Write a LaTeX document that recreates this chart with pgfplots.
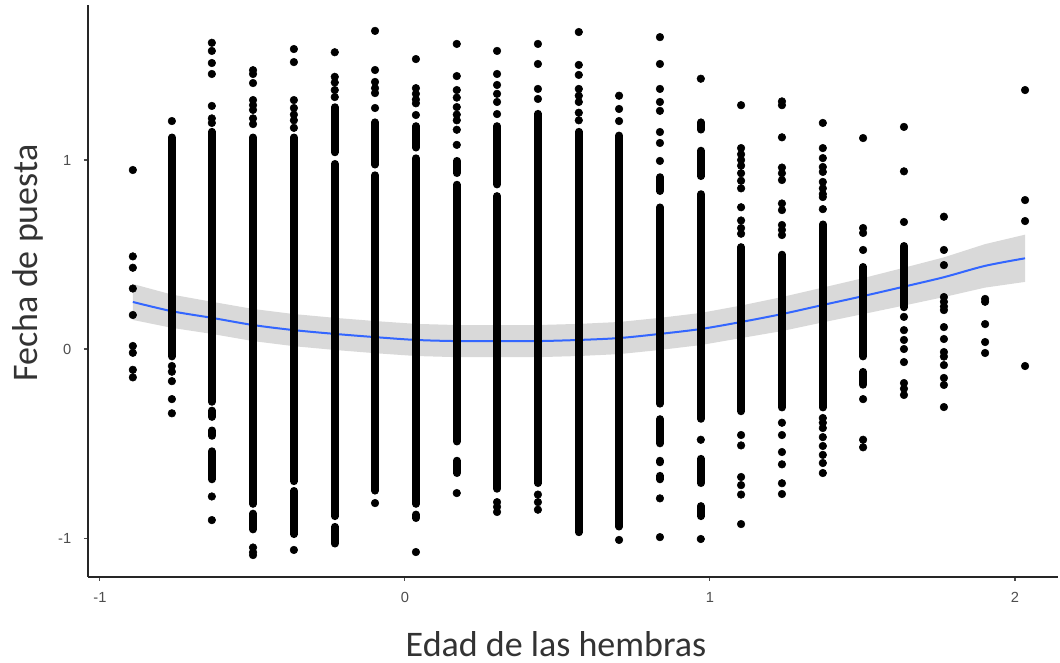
\documentclass[border=0pt]{standalone}
\usepackage{fontspec}
\setmainfont{Carlito}
\newfontfamily\tickfont{Liberation Sans}
\usepackage{pgfplots}
\pgfplotsset{compat=1.18}
\definecolor{smoothblue}{HTML}{3366FF}
\definecolor{bandgray}{HTML}{D9D9D9}
\definecolor{ticklab}{HTML}{4D4D4D}
\begin{document}
\begin{tikzpicture}
\useasboundingbox (-66pt,-64.5pt) rectangle (729pt,432.75pt);
\begin{axis}[
  at={(0,0)}, anchor=south west,
  scale only axis, width=727.5pt, height=429pt,
  xmin=-1.039, xmax=2.141, ymin=-1.206, ymax=1.820,
  axis lines*=left,
  axis line style={black!85, line width=0.9pt},
  tick align=outside, major tick length=3pt,
  tick style={black!70, line width=0.8pt},
  xtick={-1,0,1,2}, xticklabels={-1,0,1,2},
  ytick={-1,0,1}, yticklabels={-1,0,1},
  ticklabel style={font=\tickfont\fontsize{11}{13}\selectfont, text=ticklab},
  xticklabel style={yshift=-5pt},
  yticklabel style={xshift=-6pt},
  unbounded coords=jump,
]
% confidence band
\addplot[draw=none, fill=bandgray] coordinates {
(-0.892,0.344) (-0.764,0.288) (-0.633,0.25) (-0.498,0.212) (-0.364,0.185) (-0.230,0.165) (-0.098,0.148) (0.036,0.133) (0.170,0.127) (0.302,0.127) (0.436,0.127) (0.570,0.133) (0.702,0.143) (0.836,0.165) (0.970,0.191) (1.102,0.23) (1.236,0.275) (1.370,0.325) (1.502,0.375) (1.636,0.43) (1.767,0.485) (1.902,0.555) (2.033,0.605)
(2.033,0.355) (1.902,0.325) (1.767,0.275) (1.636,0.23) (1.502,0.185) (1.370,0.141) (1.236,0.095) (1.102,0.058) (0.970,0.021) (0.836,-0.005) (0.702,-0.027) (0.570,-0.037) (0.436,-0.043) (0.302,-0.043) (0.170,-0.043) (0.036,-0.037) (-0.098,-0.022) (-0.230,-0.005) (-0.364,0.015) (-0.498,0.042) (-0.633,0.08) (-0.764,0.112) (-0.892,0.154)
} -- cycle;
% smooth line
\addplot[smoothblue, line width=1.5pt, smooth] coordinates {
(-0.892,0.249) (-0.764,0.20) (-0.633,0.165) (-0.498,0.127) (-0.364,0.10) (-0.230,0.08) (-0.098,0.063) (0.036,0.048) (0.170,0.042) (0.302,0.042) (0.436,0.042) (0.570,0.048) (0.702,0.058) (0.836,0.08) (0.970,0.106) (1.102,0.143) (1.236,0.185) (1.370,0.233) (1.502,0.28) (1.636,0.33) (1.767,0.38) (1.902,0.44) (2.033,0.48)
};
% dense parts of the columns
\addplot[black, line width=5.7pt, line cap=round] coordinates {
(-0.764,-0.04) (-0.764,1.12) (-0.764,nan)
(-0.633,-0.28) (-0.633,1.15) (-0.633,nan)
(-0.633,-0.36) (-0.633,-0.325) (-0.633,nan)
(-0.633,-0.46) (-0.633,-0.43) (-0.633,nan)
(-0.633,-0.69) (-0.633,-0.54) (-0.633,nan)
(-0.498,-0.82) (-0.498,1.12) (-0.498,nan)
(-0.498,-0.955) (-0.498,-0.87) (-0.498,nan)
(-0.364,-0.70) (-0.364,1.12) (-0.364,nan)
(-0.364,-0.98) (-0.364,-0.75) (-0.364,nan)
(-0.230,-0.885) (-0.230,0.98) (-0.230,nan)
(-0.230,1.04) (-0.230,1.28) (-0.230,nan)
(-0.230,-1.03) (-0.230,-0.94) (-0.230,nan)
(-0.098,-0.75) (-0.098,0.92) (-0.098,nan)
(-0.098,0.975) (-0.098,1.20) (-0.098,nan)
(0.036,-0.82) (0.036,1.01) (0.036,nan)
(0.036,1.065) (0.036,1.18) (0.036,nan)
(0.036,-0.895) (0.036,-0.875) (0.036,nan)
(0.170,-0.49) (0.170,0.87) (0.170,nan)
(0.170,0.93) (0.170,0.996) (0.170,nan)
(0.170,-0.657) (0.170,-0.59) (0.170,nan)
(0.302,-0.74) (0.302,0.81) (0.302,nan)
(0.302,0.87) (0.302,1.18) (0.302,nan)
(0.436,-0.71) (0.436,1.245) (0.436,nan)
(0.570,-0.97) (0.570,1.15) (0.570,nan)
(0.702,-0.94) (0.702,1.13) (0.702,nan)
(0.836,-0.29) (0.836,0.75) (0.836,nan)
(0.836,0.835) (0.836,0.91) (0.836,nan)
(0.836,-0.50) (0.836,-0.37) (0.836,nan)
(0.836,-0.60) (0.836,-0.59) (0.836,nan)
(0.836,-0.69) (0.836,-0.67) (0.836,nan)
(0.970,-0.37) (0.970,0.82) (0.970,nan)
(0.970,0.914) (0.970,1.05) (0.970,nan)
(0.970,1.16) (0.970,1.20) (0.970,nan)
(0.970,-0.71) (0.970,-0.58) (0.970,nan)
(0.970,-0.885) (0.970,-0.83) (0.970,nan)
(1.102,-0.33) (1.102,0.54) (1.102,nan)
(1.236,-0.31) (1.236,0.50) (1.236,nan)
(1.370,-0.31) (1.370,0.66) (1.370,nan)
(1.502,-0.04) (1.502,0.435) (1.502,nan)
(1.502,-0.19) (1.502,-0.12) (1.502,nan)
(1.636,0.22) (1.636,0.546)
};
% individual points
\addplot[only marks, mark=*, mark size=2.85pt, black] coordinates {
(-0.892,0.947) (-0.892,0.49) (-0.892,0.43) (-0.892,0.32) (-0.892,0.18) (-0.892,0.016) (-0.892,-0.02) (-0.892,-0.11) (-0.892,-0.15)
(-0.764,1.206) (-0.764,-0.09) (-0.764,-0.12) (-0.764,-0.17) (-0.764,-0.265) (-0.764,-0.34)
(-0.633,1.62) (-0.633,1.577) (-0.633,1.513) (-0.633,1.455) (-0.633,1.286) (-0.633,1.22) (-0.633,1.196) (-0.633,-0.78) (-0.633,-0.905)
(-0.498,1.475) (-0.498,1.455) (-0.498,1.407) (-0.498,1.317) (-0.498,1.29) (-0.498,1.265) (-0.498,1.22) (-0.498,1.19) (-0.498,-1.05) (-0.498,-1.075) (-0.498,-1.09)
(-0.364,1.587) (-0.364,1.518) (-0.364,1.317) (-0.364,1.275) (-0.364,1.24) (-0.364,1.21) (-0.364,1.17) (-0.364,-1.063)
(-0.230,1.57) (-0.230,1.44) (-0.230,1.41) (-0.230,1.37) (-0.230,1.333)
(-0.098,1.683) (-0.098,1.476) (-0.098,1.413) (-0.098,1.38) (-0.098,1.354) (-0.098,1.275) (-0.098,-0.815)
(0.036,1.534) (0.036,1.38) (0.036,1.35) (0.036,1.32) (0.036,1.30) (0.036,1.238) (0.036,-1.074)
(0.170,1.614) (0.170,1.444) (0.170,1.37) (0.170,1.33) (0.170,1.28) (0.170,1.24) (0.170,1.21) (0.170,1.16) (0.170,1.08) (0.170,-0.762)
(0.302,1.577) (0.302,1.455) (0.302,1.397) (0.302,1.35) (0.302,1.307) (0.302,1.243) (0.302,-0.81) (0.302,-0.835) (0.302,-0.862)
(0.436,1.614) (0.436,1.508) (0.436,1.376) (0.436,1.323) (0.436,-0.77) (0.436,-0.81) (0.436,-0.85)
(0.570,1.677) (0.570,1.503) (0.570,1.45) (0.570,1.376) (0.570,1.34) (0.570,1.307) (0.570,1.25) (0.570,1.21)
(0.702,1.34) (0.702,1.27) (0.702,1.206) (0.702,-1.01)
(0.836,1.65) (0.836,1.508) (0.836,1.376) (0.836,1.307) (0.836,1.26) (0.836,1.148) (0.836,1.09) (0.836,0.995) (0.836,-0.79) (0.836,-0.995)
(0.970,1.43) (0.970,-0.48) (0.970,-1.005)
(1.102,1.29) (1.102,1.063) (1.102,1.03) (1.102,1.0) (1.102,0.97) (1.102,0.93) (1.102,0.89) (1.102,0.85) (1.102,0.75) (1.102,0.68) (1.102,0.64) (1.102,0.61) (1.102,-0.455) (1.102,-0.51) (1.102,-0.677) (1.102,-0.72) (1.102,-0.77) (1.102,-0.926)
(1.236,1.31) (1.236,1.29) (1.236,1.12) (1.236,0.96) (1.236,0.93) (1.236,0.894) (1.236,0.77) (1.236,0.735) (1.236,0.656) (1.236,0.63) (1.236,0.603) (1.236,-0.39) (1.236,-0.455) (1.236,-0.545) (1.236,-0.61) (1.236,-0.71) (1.236,-0.767)
(1.370,1.196) (1.370,1.063) (1.370,1.01) (1.370,0.963) (1.370,0.937) (1.370,0.884) (1.370,0.85) (1.370,0.82) (1.370,0.804) (1.370,0.74) (1.370,-0.365) (1.370,-0.39) (1.370,-0.418) (1.370,-0.466) (1.370,-0.513) (1.370,-0.56) (1.370,-0.603) (1.370,-0.656)
(1.502,1.116) (1.502,0.64) (1.502,0.614) (1.502,0.524) (1.502,-0.265) (1.502,-0.48) (1.502,-0.52)
(1.636,1.175) (1.636,0.94) (1.636,0.672) (1.636,0.17) (1.636,0.10) (1.636,0.048) (1.636,0.0) (1.636,-0.069) (1.636,-0.18) (1.636,-0.21) (1.636,-0.243)
(1.767,0.70) (1.767,0.524) (1.767,0.444) (1.767,0.275) (1.767,0.25) (1.767,0.225) (1.767,0.206) (1.767,0.116) (1.767,0.053) (1.767,-0.016) (1.767,-0.04) (1.767,-0.085) (1.767,-0.153) (1.767,-0.19) (1.767,-0.307)
(1.902,0.265) (1.902,0.25) (1.902,0.132) (1.902,0.037) (1.902,-0.021)
(2.033,1.37) (2.033,0.788) (2.033,0.677) (2.033,-0.09)
};
\end{axis}
\node[text=black!80, inner sep=0pt, font=\fontsize{27}{32}\selectfont] at (351pt,-50pt) {Edad de las hembras};
\node[text=black!80, inner sep=0pt, rotate=90, font=\fontsize{27}{32}\selectfont] at (-45pt,235.5pt) {Fecha de puesta};
\end{tikzpicture}
\end{document}
